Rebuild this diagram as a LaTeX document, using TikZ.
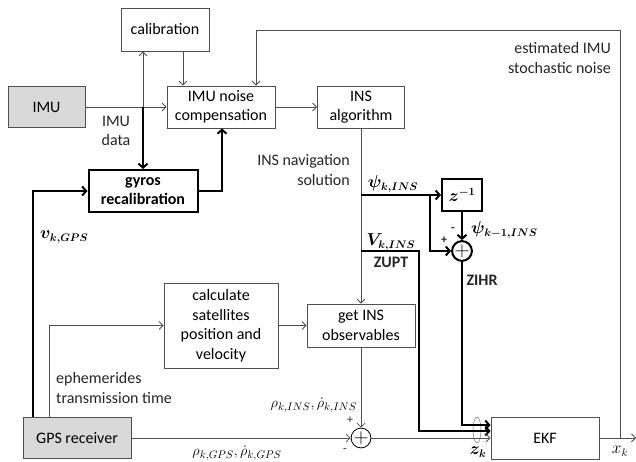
\documentclass[tikz,border=0pt]{standalone}
\usepackage{fontspec}
\setmainfont{Carlito}
\usepackage{amsmath}
\usepackage{bm}
\usetikzlibrary{arrows.meta,calc,shapes.geometric}
\definecolor{ln}{HTML}{505050}
\definecolor{boxfill}{HTML}{D9D9D9}
\tikzset{
  box/.style={draw=ln, line width=0.8pt, align=center, inner sep=0pt, font=\fontsize{16}{19.5}\selectfont},
  grbox/.style={box, fill=boxfill},
  tkbox/.style={box, draw=black, line width=2pt},
  sumc/.style={circle, draw=black, inner sep=0pt, minimum size=17pt, font=\fontsize{20}{20}\selectfont\bfseries},
  thinarrow/.style={draw=ln, line width=0.8pt, -{Straight Barb[length=4pt,width=8pt]}},
  thickarrow/.style={draw=black, line width=2pt, -{Straight Barb[length=4pt,width=9pt]}},
  lbl/.style={font=\fontsize{16}{19.5}\selectfont, inner sep=0pt, text=black!85},
  mlbl/.style={font=\fontsize{16}{19.5}\selectfont, inner sep=0pt},
  slbl/.style={font=\fontsize{15}{17}\selectfont, inner sep=0pt},
}
\begin{document}
\begin{tikzpicture}[x=1pt,y=-1pt]
\useasboundingbox (0,0) rectangle (636,462);
% boxes
\node[box, minimum width=88pt, minimum height=43pt] (calib) at (165,29.5) {calibration};
\node[grbox, minimum width=77pt, minimum height=41pt] (imu) at (46.5,107) {IMU};
\node[box, minimum width=108pt, minimum height=42pt] (noise) at (221,107) {IMU noise\\compensation};
\node[tkbox, minimum width=109pt, minimum height=42pt, font=\fontsize{16}{19.5}\selectfont\bfseries] (gyros) at (143,191) {gyros\\recalibration};
\node[box, minimum width=87pt, minimum height=42pt] (ins) at (361,107) {INS\\algorithm};
\node[tkbox, minimum width=40pt, minimum height=32pt] (z1) at (462,195) {$\bm{z^{-1}}$};
\node[sumc, line width=2pt] (s1) at (462,251) {$+$};
\node[box, minimum width=108pt, minimum height=43pt] (getins) at (361,325.5) {get INS\\observables};
\node[box, minimum width=114pt, minimum height=85pt] (calc) at (221,325.5) {calculate\\satellites\\position and\\velocity};
\node[grbox, minimum width=108pt, minimum height=41pt] (gps) at (77,438) {GPS receiver};
\node[sumc, line width=0.8pt] (s2) at (361,438) {$+$};
\node[box, minimum width=108pt, minimum height=42pt] (ekf) at (545,438) {EKF};
\node[draw=gray, line width=0.6pt, ellipse, minimum width=8pt, minimum height=26pt, inner sep=0pt] (ell) at (477,430) {};
% helper coordinates
\coordinate (jimu) at (143,107);
\coordinate (cn) at (183,0);
\coordinate (gn) at (222,0);
\coordinate (vx) at (33,0);
\coordinate (ex) at (49,0);
\coordinate (fb1) at (620,438);
\coordinate (fb2) at (620,30);
\coordinate (fx) at (256,0);
\coordinate (psi0) at (361,195);
\coordinate (psib) at (430,195);
\coordinate (v0) at (361,251);
\coordinate (v1) at (419,251);
\coordinate (out) at (636,438);
% connectors
\draw[thinarrow] (imu.east) -- (noise.west);
\draw[thinarrow] (jimu) -- (jimu |- calib.south);
\draw[thickarrow] (jimu) -- (gyros.north);
\draw[thinarrow] (calib.south -| cn) -- (noise.north -| cn);
\draw[thickarrow] (gyros.east) -| (noise.south -| gn);
\draw[thickarrow] (gps.north -| vx) |- (gyros.west);
\draw[thinarrow] (gps.north -| ex) |- (calc.west);
\draw[thinarrow] (calc.east) -- (getins.west);
\draw[thinarrow] (noise.east) -- (ins.west);
\draw[thinarrow] (ins.south) -- (getins.north);
\draw[thinarrow] (fb1) -- (fb2) -| (noise.north -| fx);
\draw[thickarrow] (psi0) -- (z1.west);
\draw[thickarrow] (psib) |- (s1.west);
\draw[thickarrow] (z1.south) -- (s1.north);
\draw[thickarrow] (v0) -- (v1) |- ($(ekf.west)+(0,-7)$);
\draw[thickarrow] (s1.south) |- ($(ekf.west)+(0,-13)$);
\draw[thinarrow] (getins.south) -- (s2.north);
\draw[thinarrow] (gps.east) -- (s2.west);
\draw[thinarrow] (s2.east) -- (ekf.west);
\draw[thinarrow] (ekf.east) -- (out);
% labels
\node[lbl, align=center] (limu) at (116,131) {IMU\\data};
\node[lbl, align=right, anchor=east] (lnav) at (350,170) {INS navigation\\solution};
\node[lbl, align=right, anchor=east] (lest) at (611,58) {estimated IMU\\stochastic noise};
\node[mlbl] (lpsi) at (393,184) {$\bm{\psi_{k,INS}}$};
\node[mlbl, anchor=west] (lpsi1) at (471,230) {$\bm{\psi_{k-1,INS}}$};
\node[lbl, font=\fontsize{12}{12}\selectfont\bfseries] (lm1) at (453,229) {-};
\node[lbl, font=\fontsize{12}{12}\selectfont\bfseries] (lp1) at (444,240) {+};
\node[mlbl] (lv) at (391,242) {$\bm{V_{k,INS}}$};
\node[lbl, font=\fontsize{16}{19.5}\selectfont\bfseries] (lzupt) at (391,262) {ZUPT};
\node[lbl, font=\fontsize{16}{19.5}\selectfont\bfseries] (lzihr) at (482,280) {ZIHR};
\node[mlbl, anchor=west] (lvg) at (40,237) {$\bm{v_{k,GPS}}$};
\node[lbl, align=left, anchor=west] (leph) at (56,388) {ephemerides\\transmission time};
\node[slbl, anchor=east] (lrins) at (357,405) {$\rho_{k,INS}{,}\,\dot{\rho}_{k,INS}$};
\node[lbl, font=\fontsize{12}{12}\selectfont] (lp2) at (350,420) {+};
\node[lbl, font=\fontsize{12}{12}\selectfont] (lm2) at (345,451) {-};
\node[slbl] (lrgps) at (237,453) {$\rho_{k,GPS}{,}\,\dot{\rho}_{k,GPS}$};
\node[mlbl] (lzk) at (478,452) {$\bm{z_k}$};
\node[mlbl] (lxk) at (620,451) {$x_k$};
\end{tikzpicture}
\end{document}
